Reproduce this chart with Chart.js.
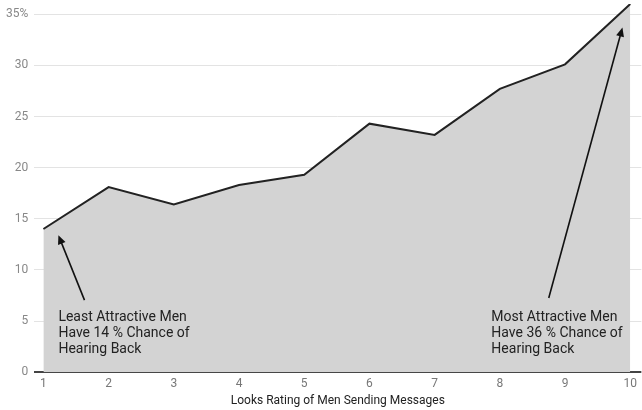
<!DOCTYPE html>
<html>
<head>
<meta charset="utf-8">
<script src="https://cdn.jsdelivr.net/npm/chart.js@4"></script>
<style>
  html, body { margin: 0; padding: 0; background: #fff; }
  #wrap { width: 642px; height: 410px; }
</style>
</head>
<body>
<div id="wrap"><canvas id="c"></canvas></div>
<script>
// Looks rating of the sender (1-10) and the share of messages that got a reply (%)
const ratings = [1, 2, 3, 4, 5, 6, 7, 8, 9, 10];
const replyRate = [14, 18.1, 16.4, 18.3, 19.3, 24.3, 23.2, 27.7, 30.1, 36];
const yTicks = [0, 5, 10, 15, 20, 25, 30, 35];
const xTitle = 'Looks Rating of Men Sending Messages';

// Call-out notes: text lines, text anchor and arrow tail/head, in data units
const notes = [
  { lines: ['Least Attractive Men', 'Have 14 % Chance of', 'Hearing Back'],
    at: [1.23, 6.05], tail: [1.63, 7.05], head: [1.23, 13.4] },
  { lines: ['Most Attractive Men', 'Have 36 % Chance of', 'Hearing Back'],
    at: [7.87, 6.05], tail: [8.75, 7.25], head: [9.88, 33.7] }
];

const notePlugin = {
  id: 'notes',
  afterDatasetsDraw(chart) {
    const { ctx, scales: { x, y } } = chart;
    ctx.save();
    notes.forEach(n => {
      // text
      ctx.fillStyle = '#222';
      ctx.font = '14px Roboto';
      ctx.textAlign = 'left';
      ctx.textBaseline = 'top';
      const tx = x.getPixelForValue(n.at[0]);
      const ty = y.getPixelForValue(n.at[1]);
      n.lines.forEach((l, i) => ctx.fillText(l, tx, ty + i * 16.2));
      // arrow
      const x0 = x.getPixelForValue(n.tail[0]), y0 = y.getPixelForValue(n.tail[1]);
      const x1 = x.getPixelForValue(n.head[0]), y1 = y.getPixelForValue(n.head[1]);
      const ang = Math.atan2(y1 - y0, x1 - x0);
      const hl = 9, hw = 4;
      ctx.strokeStyle = '#111';
      ctx.lineWidth = 1.6;
      ctx.beginPath();
      ctx.moveTo(x0, y0);
      ctx.lineTo(x1 - Math.cos(ang) * hl * 0.8, y1 - Math.sin(ang) * hl * 0.8);
      ctx.stroke();
      ctx.fillStyle = '#111';
      ctx.beginPath();
      ctx.moveTo(x1, y1);
      ctx.lineTo(x1 - Math.cos(ang) * hl + Math.sin(ang) * hw, y1 - Math.sin(ang) * hl - Math.cos(ang) * hw);
      ctx.lineTo(x1 - Math.cos(ang) * hl - Math.sin(ang) * hw, y1 - Math.sin(ang) * hl + Math.cos(ang) * hw);
      ctx.closePath();
      ctx.fill();
    });
    ctx.restore();
  }
};

new Chart(document.getElementById('c'), {
  type: 'line',
  data: {
    datasets: [{
      data: ratings.map((r, i) => ({ x: r, y: replyRate[i] })),
      borderColor: '#222',
      borderWidth: 2,
      backgroundColor: '#d3d3d3',
      fill: 'origin',
      pointRadius: 0,
      tension: 0
    }]
  },
  options: {
    responsive: true,
    maintainAspectRatio: false,
    animation: false,
    layout: { padding: { top: 4, right: 0, left: 0, bottom: 0 } },
    plugins: { legend: { display: false }, tooltip: { enabled: false } },
    scales: {
      x: {
        type: 'linear',
        min: 0.86,
        max: 10.17,
        afterBuildTicks: axis => { axis.ticks = ratings.map(v => ({ value: v })); },
        grid: { display: false, drawTicks: false },
        border: { display: false },
        ticks: { color: '#777', font: { family: 'Roboto', size: 12 }, padding: 5, maxRotation: 0 },
        title: { display: true, text: xTitle, color: '#222', font: { family: 'Roboto', size: 12 }, padding: { top: -3, bottom: 2 } }
      },
      y: {
        min: 0,
        max: 36,
        afterBuildTicks: axis => { axis.ticks = yTicks.map(v => ({ value: v })); },
        afterFit: axis => { axis.paddingTop = 0; axis.paddingBottom = 0; },
        border: { display: false },
        grid: {
          drawTicks: false,
          color: c => c.tick && c.tick.value === 0 ? '#444' : '#e3e3e3',
          lineWidth: c => c.tick && c.tick.value === 0 ? 2 : 1
        },
        ticks: {
          color: '#888',
          font: { family: 'Roboto', size: 12 },
          padding: 6,
          callback: v => v === 35 ? v + '%' : v
        }
      }
    }
  },
  plugins: [notePlugin]
});
</script>
</body>
</html>
